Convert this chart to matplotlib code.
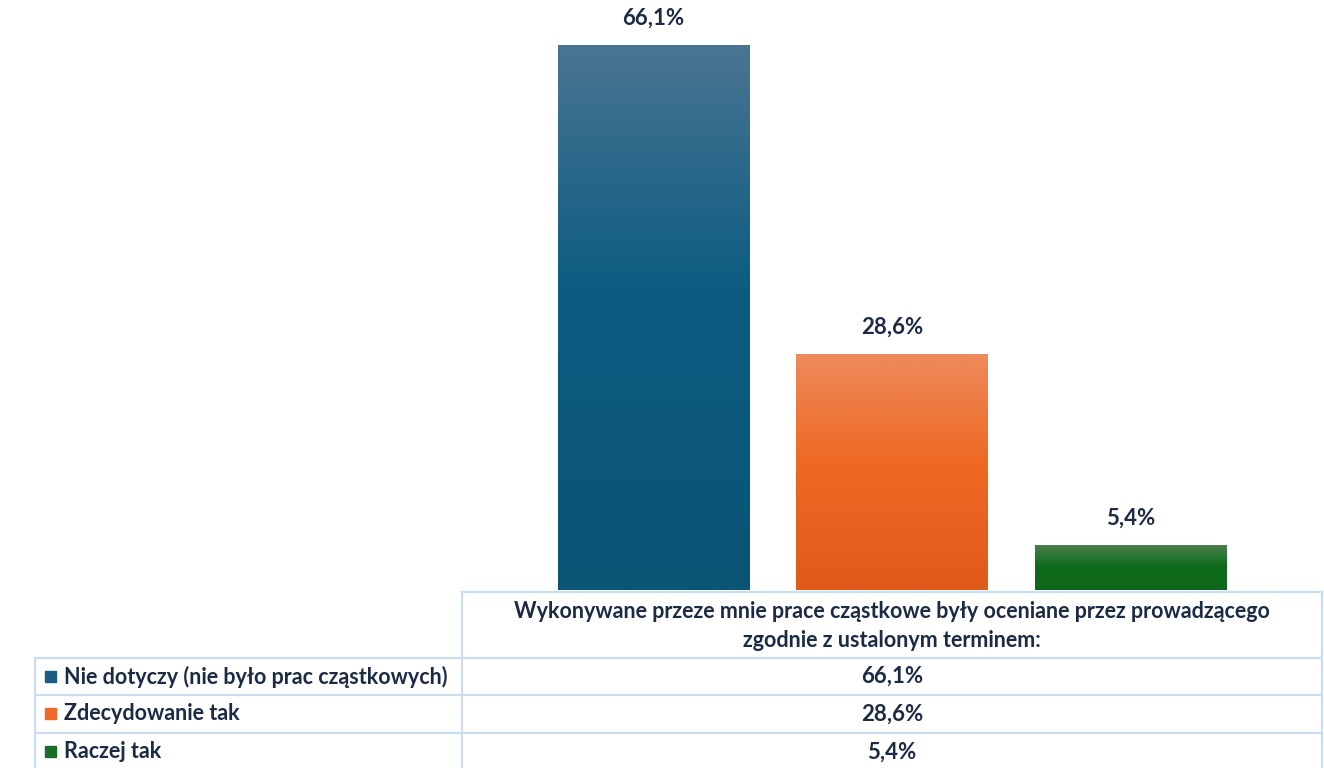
import numpy as np
import matplotlib.pyplot as plt
from matplotlib.lines import Line2D
from matplotlib.colors import LinearSegmentedColormap

# dados
series = ['Nie dotyczy (nie było prac cząstkowych)', 'Zdecydowanie tak', 'Raczej tak']
values = [66.1, 28.6, 5.4]
category = 'Wykonywane przeze mnie prace cząstkowe były oceniane przez prowadzącego\nzgodnie z ustalonym terminem:'
labels = ['66,1%', '28,6%', '5,4%']
# cores (topo, meio e base do gradiente)
colors_top = ['#4a7592', '#ee8a5c', '#4b7f4c']
colors_mid = ['#0c5c82', '#ee6a24', '#0f6c1c']
colors_bot = ['#0a5474', '#e05a1a', '#0f661a']
key_colors = ['#1a5d80', '#ee6a2a', '#1a6e26']

W, H = 1324, 768
txt_color = '#1c2b44'
grid_color = '#c9dcf0'
plt.rcParams['font.family'] = ['Lato', 'DejaVu Sans']

fig = plt.figure(figsize=(W / 100, H / 100), dpi=100)

# area do grafico em pixels
x0, x1 = 462, 1322
y_base, y_top = 590, 13
ax = fig.add_axes([x0 / W, (H - y_base) / H, (x1 - x0) / W, (y_base - y_top) / H])
ax.axis('off')

bar_w = 192 / (x1 - x0)
step = 238.5 / (x1 - x0)
positions = [(i - 1) * step for i in range(len(values))]
bars = ax.bar(positions, values, width=bar_w, color='none', edgecolor='none')

for b, ct, cm_, cb, lab in zip(bars, colors_top, colors_mid, colors_bot, labels):
    cmap = LinearSegmentedColormap.from_list('g', [(0, cb), (0.55, cm_), (1, ct)])
    grad = np.linspace(0, 1, 256).reshape(-1, 1)
    bx, bw, bh = b.get_x(), b.get_width(), b.get_height()
    im = ax.imshow(grad, cmap=cmap, origin='lower', aspect='auto',
                   extent=[bx, bx + bw, 0, bh], zorder=2)
    im.set_clip_path(b)
    ax.text(bx + bw / 2, bh + 2.0, lab, ha='center', va='bottom',
            fontsize=16, fontweight='bold', color=txt_color)
ax.set_xlim(-0.5, 0.5)
ax.set_ylim(0, 70)

# tabela de dados desenhada em coordenadas de pixel
tab = fig.add_axes([0, 0, 1, 1], zorder=-1)
tab.set_xlim(0, W)
tab.set_ylim(H, 0)
tab.axis('off')

left = 35
rows_y = [592, 658, 695, 733, 771]
lw = 1.6
# linhas horizontais
tab.add_line(Line2D([x0, x1], [rows_y[0], rows_y[0]], color=grid_color, lw=lw))
for y in rows_y[1:4]:
    tab.add_line(Line2D([left, x1], [y, y], color=grid_color, lw=lw))
# linhas verticais
tab.add_line(Line2D([x0, x0], [rows_y[0], H], color=grid_color, lw=lw))
tab.add_line(Line2D([x1, x1], [rows_y[0], H], color=grid_color, lw=lw))
tab.add_line(Line2D([left, left], [rows_y[1], H], color=grid_color, lw=lw))

tab.text((x0 + x1) / 2, (rows_y[0] + rows_y[1]) / 2 + 1, category, ha='center', va='center',
         fontsize=15.5, fontweight='bold', color=txt_color, linespacing=1.5)

for i, (name, lab, kc) in enumerate(zip(series, labels, key_colors)):
    yc = (rows_y[i + 1] + rows_y[i + 2]) / 2
    tab.add_patch(plt.Rectangle((45, yc - 6), 11, 11, color=kc))
    tab.text(64, yc, name, ha='left', va='center', fontsize=15.5,
             fontweight='bold', color=txt_color)
    tab.text((x0 + x1) / 2, yc, lab, ha='center', va='center', fontsize=16,
             fontweight='bold', color=txt_color)

fig.savefig('out.png', dpi=100)
